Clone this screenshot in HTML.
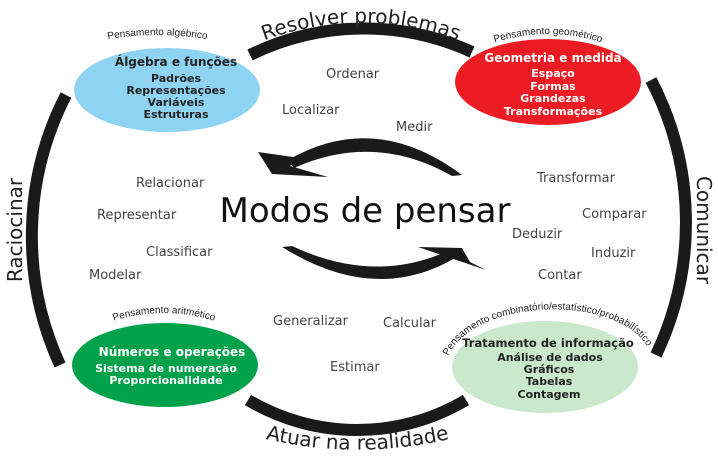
<!DOCTYPE html>
<html><head><meta charset="utf-8"><style>
html,body{margin:0;padding:0;background:#fff;}
svg{display:block;}
text{font-family:"DejaVu Sans","Liberation Sans",sans-serif;}
.lab{font-size:13px;fill:#444;}
.b{font-weight:bold;font-size:11px;text-anchor:middle;}
.s{font-family:"Liberation Sans",sans-serif;font-size:10px;fill:#222;}
</style></head><body>
<svg width="718" height="457" viewBox="0 0 718 457" xmlns="http://www.w3.org/2000/svg">
<defs>
<path id="ptop" d="M 230,56 A 275,275 0 0 1 492,56"/>
<path id="pbot" d="M 240,432 A 400,400 0 0 0 475,432"/>
<path id="pal" d="M 103,40 Q 157,30 212,40"/>
<path id="pge" d="M 490,44 Q 548,24 606,44"/>
<path id="par" d="M 110,322 Q 164,304 218,322"/>
<path id="pco" d="M 444,376 C 444,292 646,286 654,366"/>
</defs>
<g fill="none" stroke="#1a1a1a" stroke-width="12">
<path d="M 250,55 A 259,259 0 0 1 472,52"/>
<path d="M 66,95 A 309,309 0 0 0 60,365"/>
<path d="M 651,80 A 308,308 0 0 1 656,355"/>
<path d="M 248,400 A 213,213 0 0 0 466,400"/>
</g>
<text font-size="20" fill="#222"><textPath href="#ptop" startOffset="50%" text-anchor="middle">Resolver problemas</textPath></text>
<text font-size="20" fill="#222"><textPath href="#pbot" startOffset="50%" text-anchor="middle">Atuar na realidade</textPath></text>
<text font-size="20" fill="#222" transform="translate(22,230) rotate(-90)" text-anchor="middle">Raciocinar</text>
<text font-size="20" fill="#222" transform="translate(697,230) rotate(90)" text-anchor="middle">Comunicar</text>

<ellipse cx="167" cy="90" rx="93" ry="42" fill="#8fd3f2"/>
<ellipse cx="548" cy="82" rx="93" ry="43" fill="#ed1c24"/>
<ellipse cx="165" cy="365" rx="93" ry="42" fill="#00a14b"/>
<ellipse cx="545" cy="367" rx="93" ry="46" fill="#c9e8cc"/>

<text class="s"><textPath href="#pal" startOffset="50%" text-anchor="middle">Pensamento algébrico</textPath></text>
<text class="s"><textPath href="#pge" startOffset="50%" text-anchor="middle">Pensamento geométrico</textPath></text>
<text class="s"><textPath href="#par" startOffset="50%" text-anchor="middle">Pensamento aritmético</textPath></text>
<text class="s"><textPath href="#pco" startOffset="50%" text-anchor="middle">Pensamento combinatório/estatístico/probabilístico</textPath></text>

<g fill="#222" class="b">
<text x="176" y="66" font-size="12">Álgebra e funções</text>
<text x="176" y="82">Padrões</text>
<text x="176" y="94">Representações</text>
<text x="176" y="106">Variáveis</text>
<text x="176" y="118">Estruturas</text>
</g>
<g fill="#fff" class="b">
<text x="553" y="62" font-size="12">Geometria e medida</text>
<text x="553" y="77">Espaço</text>
<text x="553" y="90">Formas</text>
<text x="553" y="102">Grandezas</text>
<text x="553" y="115">Transformações</text>
<text x="172" y="356" font-size="12">Números e operações</text>
<text x="166" y="372">Sistema de numeração</text>
<text x="166" y="384">Proporcionalidade</text>
</g>
<g fill="#222" class="b">
<text x="548" y="347" font-size="11.5">Tratamento de informação</text>
<text x="550" y="361">Análise de dados</text>
<text x="549" y="373">Gráficos</text>
<text x="549" y="385">Tabelas</text>
<text x="549" y="398">Contagem</text>
</g>

<g fill="#1a1a1a">
<path d="M 462,175 Q 375,110 288,160 L 294,168 Q 375,132 452,176 Z"/>
<polygon points="258,152 300,158 290,166 328,177 272,174"/>
<path d="M 282,247 Q 375,305 455,258 L 450,250 Q 375,285 292,246 Z"/>
<polygon points="486,270 418,247 462,248 470,262"/>
</g>
<text x="365" y="222" text-anchor="middle" font-size="34" fill="#111">Modos de pensar</text>

<g class="lab">
<text x="326" y="78">Ordenar</text>
<text x="282" y="114">Localizar</text>
<text x="396" y="131">Medir</text>
<text x="136" y="187">Relacionar</text>
<text x="97" y="219">Representar</text>
<text x="146" y="256">Classificar</text>
<text x="89" y="279">Modelar</text>
<text x="537" y="182">Transformar</text>
<text x="582" y="218">Comparar</text>
<text x="512" y="238">Deduzir</text>
<text x="591" y="257">Induzir</text>
<text x="538" y="279">Contar</text>
<text x="273" y="325">Generalizar</text>
<text x="383" y="327">Calcular</text>
<text x="330" y="371">Estimar</text>
</g>
</svg>
</body></html>
